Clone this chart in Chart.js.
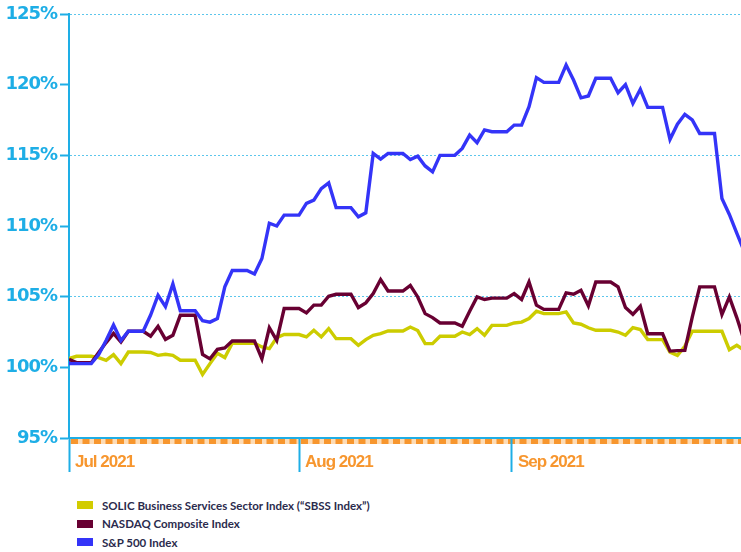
<!DOCTYPE html>
<html>
<head>
<meta charset="utf-8">
<script src="https://cdn.jsdelivr.net/npm/chart.js@4.4.0/dist/chart.umd.min.js"></script>
<style>
    body { margin: 0; background: #fff; }
    #wrap { position: relative; width: 741px; height: 552px; overflow: hidden; }
    #chartBox { position: absolute; left: 0; top: 0; width: 741px; height: 480px; }
    #legend { position: absolute; left: 77px; top: 496px; font: 700 11.5px Lato, sans-serif; color: #2b2b4d; }
    .legend-item { display: flex; align-items: center; height: 18.6px; }
    .swatch { width: 16px; height: 8px; margin-right: 9px; }
</style>
</head>
<body>
<div id="wrap">
    <div id="chartBox"><canvas id="chart"></canvas></div>
    <div id="legend"></div>
</div>
<script>
// trading-day series, one value per calendar day from Jul 1 2021 (weekends repeat Friday)
const seriesNames = ['SOLIC Business Services Sector Index (\u201cSBSS Index\u201d)', 'NASDAQ Composite Index', 'S&P 500 Index'];
const seriesColors = ['#cccc00', '#680032', '#3434f8'];

const sbss = [100.62, 100.78, 100.78, 100.78, 100.69, 100.5, 100.9, 100.26, 101.08, 101.08,
    101.08, 101.05, 100.85, 100.92, 100.85, 100.5, 100.5, 100.5, 99.5, 100.26,
    101.0, 100.69, 101.7, 101.7, 101.7, 101.7, 101.44, 101.32, 102.1, 102.32,
    102.32, 102.32, 102.15, 102.62, 102.15, 102.74, 102.03, 102.03, 102.03, 101.56,
    101.96, 102.27, 102.38, 102.57, 102.57, 102.57, 102.85, 102.6, 101.68, 101.68,
    102.2, 102.2, 102.2, 102.5, 102.32, 102.74, 102.27, 102.97, 102.97, 102.97,
    103.14, 103.2, 103.45, 103.97, 103.8, 103.8, 103.8, 103.92, 103.14, 103.05,
    102.8, 102.62, 102.62, 102.62, 102.5, 102.27, 102.81, 102.67, 101.96, 101.96,
    101.96, 101.08, 100.85, 101.49, 102.55, 102.55, 102.55, 102.55, 102.55, 101.25,
    101.56, 101.2];

const nasdaq = [100.57, 100.33, 100.33, 100.33, 101.05, 101.75, 102.4, 101.8, 102.55, 102.55,
    102.55, 102.2, 102.9, 101.98, 102.27, 103.68, 103.68, 103.68, 100.92, 100.6,
    101.27, 101.37, 101.86, 101.86, 101.86, 101.86, 100.6, 102.8, 101.9, 104.16,
    104.16, 104.16, 103.85, 104.4, 104.4, 105.03, 105.17, 105.17, 105.17, 104.23,
    104.56, 105.22, 106.21, 105.4, 105.4, 105.4, 105.8, 104.98, 103.8, 103.52,
    103.14, 103.14, 103.14, 102.9, 103.97, 104.98, 104.8, 104.9, 104.9, 104.9,
    105.22, 104.8, 106.04, 104.4, 104.1, 104.1, 104.1, 105.27, 105.17, 105.45,
    104.35, 106.04, 106.04, 106.04, 105.69, 104.23, 103.75, 104.32, 102.38, 102.38,
    102.38, 101.15, 101.18, 101.2, 103.56, 105.69, 105.69, 105.69, 103.73, 104.98,
    103.52, 101.9];

const sp500 = [100.26, 100.26, 100.26, 100.26, 100.9, 101.9, 103.0, 101.9, 102.55, 102.55,
    102.55, 103.7, 105.1, 104.3, 105.9, 104.0, 104.0, 104.0, 103.3, 103.2,
    103.45, 105.7, 106.85, 106.85, 106.85, 106.6, 107.7, 110.2, 110.0, 110.77,
    110.77, 110.77, 111.6, 111.83, 112.65, 113.05, 111.3, 111.3, 111.3, 110.65,
    110.93, 115.13, 114.73, 115.13, 115.13, 115.13, 114.7, 114.94, 114.25, 113.83,
    115.0, 115.0, 115.0, 115.49, 116.43, 115.9, 116.8, 116.67, 116.67, 116.67,
    117.14, 117.14, 118.44, 120.5, 120.16, 120.16, 120.16, 121.39, 120.33, 119.07,
    119.2, 120.45, 120.45, 120.45, 119.43, 120.0, 118.67, 119.67, 118.39, 118.39,
    118.39, 116.13, 117.2, 117.9, 117.5, 116.55, 116.55, 116.55, 111.95, 110.82,
    109.5, 108.2];

// x axis: day offset from Jul 1; the picture is cropped just before day 91
const dayOffsets = sbss.map((v, i) => i);
const xMax = 90.57;
const monthTicks = [0, 31, 59.7];
const monthLabels = ['Jul 2021', 'Aug 2021', 'Sep 2021'];

const yMin = 95, yMax = 125, yStep = 5;
const dottedAt = [105, 115, 125];

const blue = '#1eaee6';
const orange = '#f7962e';

function toPoints(values) {
    return values.map((v, i) => ({ x: dayOffsets[i], y: v }));
}

// orange / peach dashed band under the x axis, and tight lettering for the axis labels
const baselinePlugin = {
    id: 'baseline',
    beforeDraw(chart) {
        const { ctx, chartArea, scales } = chart;
        const y = scales.y.getPixelForValue(yMin);
        ctx.save();
        ctx.fillStyle = '#fddcb6';
        ctx.fillRect(chartArea.left, y + 1, chartArea.right - chartArea.left, 5);
        ctx.strokeStyle = orange;
        ctx.lineWidth = 5;
        ctx.setLineDash([7, 4.5]);
        ctx.beginPath();
        ctx.moveTo(chartArea.left + 2, y + 3.5);
        ctx.lineTo(chartArea.right, y + 3.5);
        ctx.stroke();
        ctx.restore();
        ctx.letterSpacing = '-1px';
    },
    afterDraw(chart) {
        chart.ctx.letterSpacing = '0px';
    }
};

const allSeries = [sbss, nasdaq, sp500];

new Chart(document.getElementById('chart'), {
    type: 'line',
    data: {
        datasets: allSeries.map((values, i) => ({
            label: seriesNames[i],
            data: toPoints(values),
            borderColor: seriesColors[i],
            borderWidth: 3.4,
            pointRadius: 0,
            tension: 0,
            order: 2 - i
        }))
    },
    options: {
        responsive: true,
        maintainAspectRatio: false,
        animation: false,
        layout: { padding: { top: 14, left: 0, right: 0, bottom: 0 } },
        plugins: {
            legend: { display: false },
            tooltip: { enabled: false }
        },
        scales: {
            x: {
                type: 'linear',
                min: 0,
                max: xMax,
                afterBuildTicks: function(scale) {
                    scale.ticks = monthTicks.map(v => ({ value: v }));
                },
                afterFit: function(scale) { scale.height = 42; },
                grid: {
                    drawOnChartArea: false,
                    color: blue,
                    tickColor: blue,
                    tickLength: 34,
                    tickWidth: 2
                },
                border: { color: blue, width: 2 },
                ticks: {
                    autoSkip: false,
                    maxRotation: 0,
                    align: 'start',
                    labelOffset: 6,
                    padding: -20,
                    color: orange,
                    font: { family: '"Liberation Sans", sans-serif', weight: 'bold', size: 17 },
                    callback: function(value, index) { return monthLabels[index]; }
                }
            },
            y: {
                min: yMin,
                max: yMax,
                afterFit: function(scale) { scale.width = 69; },
                grid: {
                    color: ctx => dottedAt.includes(ctx.tick.value) ? '#5cc6ec' : 'transparent',
                    lineWidth: 1,
                    tickColor: blue,
                    tickLength: 9,
                    tickWidth: 2
                },
                border: { color: blue, width: 2, dash: [2, 2] },
                ticks: {
                    stepSize: yStep,
                    padding: 3,
                    color: blue,
                    font: { family: '"DejaVu Sans", sans-serif', weight: 'bold', size: 18 },
                    callback: v => v + '%'
                }
            }
        }
    },
    plugins: [baselinePlugin]
});

// legend as plain html rows
const legendBox = document.getElementById('legend');
seriesNames.forEach((name, i) => {
    const row = document.createElement('div');
    row.className = 'legend-item';
    row.innerHTML = '<span class="swatch" style="background:' + (i === 0 ? '#d2cc00' : seriesColors[i]) + '"></span>' + name.replace('&', '&amp;');
    legendBox.appendChild(row);
});
</script>
</body>
</html>
